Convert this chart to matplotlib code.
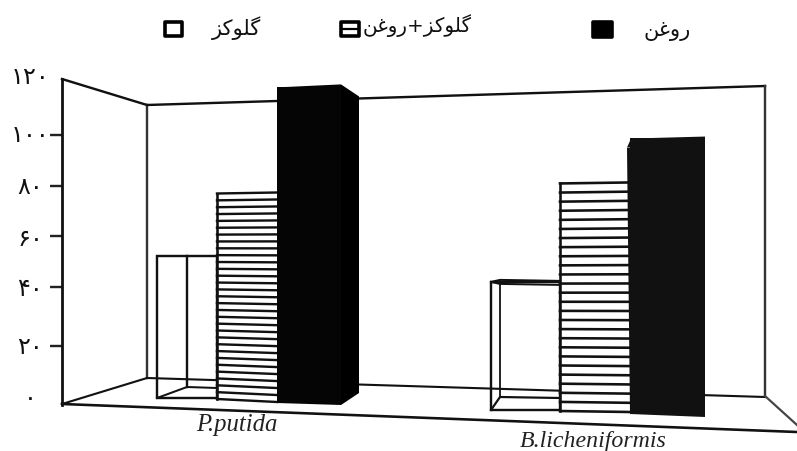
import numpy as np
import matplotlib
matplotlib.use("Agg")
import matplotlib.pyplot as plt
import matplotlib.patches as mpatches
import matplotlib.transforms as mtrans

# ---- data ----
categories = ["P.putida", "B.licheniformis"]
series_names = ["گلوکز", "گلوکز+روغن", "روغن"]
glucose = [52, 42]
glucose_oil = [77, 81]
oil = [117, 99]
tick_values = [0, 20, 40, 60, 80, 100, 120]
tick_labels = ["۰", "۲۰", "۴۰", "۶۰", "۸۰", "۱۰۰", "۱۲۰"]

W, H = 797, 451
PX = 1 / 100 * 72  # points per pixel


def pt(p):
    return p * PX


# Arabic shaping (matplotlib has no bidi or joining), logical -> visual
FORMS = {
    "گ": ("\uFB92", "\uFB93", "\uFB94", "\uFB95"),
    "ک": ("\uFB8E", "\uFB8F", "\uFB90", "\uFB91"),
    "ل": ("\uFEDD", "\uFEDE", "\uFEDF", "\uFEE0"),
    "غ": ("\uFECD", "\uFECE", "\uFECF", "\uFED0"),
    "ن": ("\uFEE5", "\uFEE6", "\uFEE7", "\uFEE8"),
    "و": ("\uFEED", "\uFEEE", None, None),
    "ز": ("\uFEAF", "\uFEB0", None, None),
    "ر": ("\uFEAD", "\uFEAE", None, None),
}


def shape(s):
    out = []
    for i, c in enumerate(s):
        if c not in FORMS:
            out.append(c)
            continue
        prev = s[i - 1] if i > 0 else ""
        nxt = s[i + 1] if i + 1 < len(s) else ""
        join_prev = prev in FORMS and FORMS[prev][2] is not None
        join_next = nxt in FORMS and FORMS[c][2] is not None
        idx = {(0, 0): 0, (1, 0): 1, (0, 1): 2, (1, 1): 3}[(int(join_prev), int(join_next))]
        out.append(FORMS[c][idx])
    return "".join(reversed(out))


# The y scale of the source is not even: its ticks sit at these pixel rows
scale_vals = np.array([-17.0, 0, 20, 40, 60, 80, 100, 120, 148.2])
scale_rows = np.array([451.0, 405, 346, 287, 236, 186, 135, 79, 0])


def forward(v):
    return -np.interp(v, scale_vals, scale_rows)


def inverse(p):
    return np.interp(p, -scale_rows, scale_vals)


def Y(row):
    return inverse(-np.asarray(row, dtype=float))


def R(v):
    return float(np.interp(v, scale_vals, scale_rows))


plt.rcParams["font.family"] = ["DejaVu Sans"]
fig = plt.figure(figsize=(W / 100, H / 100), dpi=100, facecolor="white")
ax = fig.add_axes([0, 0, 1, 1])
ax.set_yscale("function", functions=(forward, inverse))
ax.set_xlim(0, W)
ax.set_ylim(-17, 148.2)
ax.patch.set_visible(False)
pxt = mtrans.Affine2D().scale(1 / W, -1 / H).translate(0, 1) + ax.transAxes


def line(xs, rows, lw=2.2, color="#111111", z=2):
    ax.plot(xs, Y(rows), color=color, lw=pt(lw), solid_capstyle="projecting",
            solid_joinstyle="miter", zorder=z)


# ---- perspective room ----
line([62, 147], [79, 105], 2.4)
line([147, 147], [105, 378], 2.4, "#333333")
line([147, 765], [105, 86], 2.4)
line([765, 765], [86, 396], 2.4, "#333333")
line([147, 765], [378, 397], 2.1)
line([62, 147], [404, 378], 2.1)
line([765, 797], [396, 425], 2.2, "#444444")
line([62, 797], [404, 432], 2.6)

# ---- y axis ----
for s in ("top", "right", "bottom"):
    ax.spines[s].set_visible(False)
sp = ax.spines["left"]
sp.set_position(("data", 62))
sp.set_bounds(0, 120)
sp.set_linewidth(pt(2.8))
sp.set_color("#111111")
ax.set_xticks([])
ax.set_yticks(tick_values, tick_labels)
ax.tick_params(axis="y", length=pt(12), width=pt(2.4), color="#222222", pad=pt(20),
               labelsize=pt(24), labelcolor="#111111")
offsets = {0: 9, 120: 5, 20: 1, 100: 2, 80: 1}
for tick, v in zip(ax.yaxis.get_major_ticks(), tick_values):
    tick.label1.set_ha("center")
    tick.label1.set_transform(tick.label1.get_transform()
                              + mtrans.Affine2D().translate(0, offsets.get(v, 0)))
    if v in (0, 120):
        tick.tick1line.set_visible(False)

# ---- bars ----
# layout: (glucose left, glucose/hatch edge, hatch/oil edge, oil right)
edges = [(157, 217, 277, 341), (491, 560, 630, 705)]
bottoms = [(398, 399, 401, 403, 405), (410, 411, 411, 414, 417)]

for k, (x0, x1, x2, x3) in enumerate(edges):
    b = bottoms[k]
    # glucose: see-through wire frame box
    top = R(glucose[k])
    ax.bar(x0, glucose[k] - Y(b[0]), bottom=Y(b[0]), width=x1 - x0, align="edge",
           facecolor="none", edgecolor="#111111", lw=pt(2.4), zorder=4)
    if k == 0:
        bx = 187
        line([bx, bx], [top, 387], 2.4, z=4)
        line([x0, bx, x1], [b[0], 387, 388], 2.0, z=4)
    else:
        bx = 500
        line([x0, bx, x1], [top, top - 2, top - 1], 2.0, z=4)
        line([x0, bx, x1], [top, top + 2, top + 3], 2.0, z=4)
        line([bx, bx], [top + 2, 397], 1.8, z=4)
        line([x0, bx, x1], [b[0], 397, 398], 2.2, z=4)

    # glucose + oil: white front with fanning rules
    top = R(glucose_oil[k])
    ax.bar(x1, glucose_oil[k] - Y(b[2]), bottom=Y(b[2]), width=x2 - x1, align="edge",
           facecolor="white", edgecolor="none", zorder=5)
    n = 31 if k == 0 else 26
    left = np.linspace(top, b[1], n)
    right = np.linspace(top - 1, b[2] + 1, n)
    for yl, yr in zip(left, right):
        line([x1, x2], [yl, yr], 2.4 if k == 0 else 2.6, z=6)
    line([x1, x1], [top, b[1]], 2.6, z=6)

    # oil: solid block
    top = R(oil[k])
    face = "#050505" if k == 0 else "#111111"
    ax.bar(x2, oil[k] - Y(b[3]), bottom=Y(b[3]), width=x3 - x2, align="edge",
           facecolor=face, edgecolor="none", zorder=7)
    if k == 0:
        ax.fill([x2, x3, x3], Y([top, top - 3, top]), color=face, lw=0, zorder=7)
        ax.fill([x2, x3, x3], Y([b[3], b[4], b[3]]), color=face, lw=0, zorder=7)
        ax.fill([x3, 359, 359, x3], Y([top - 3, top + 9, 393, b[4]]), color="black", lw=0, zorder=7)
    else:
        ax.fill([x2 - 3, x2 + 1, x3, x3], Y([top + 10, top + 1, top - 1, top + 10]),
                color=face, lw=0, zorder=7)
        ax.fill([x2 - 3, x2, x2], Y([top + 10, top + 10, b[3]]), color=face, lw=0, zorder=7)
        ax.fill([x2, x3, x3], Y([b[3], b[4], b[3]]), color=face, lw=0, zorder=7)

# ---- category labels ----
label_pos = [(237, 425), (593, 441)]
for name, (x, y), fs in zip(categories, label_pos, (17.8, 17.2)):
    ax.text(x, y, name, transform=pxt, family="Liberation Serif", style="italic",
            fontsize=fs, ha="center", va="center", color="#222222", zorder=9)

# ---- legend ----
boxes = [(165.0, 22.0, 17.5, 14, "white"), (341.5, 22.0, 17.5, 14, "white"), (593.5, 21.5, 18.5, 15, "black")]
for x, y, w, h, fc in boxes:
    ax.add_patch(mpatches.Rectangle((x, y), w, h, transform=pxt, facecolor=fc, edgecolor="black",
                                    lw=pt(3.6), joinstyle="round", zorder=9))
ax.plot([342, 359], [29, 29], transform=pxt, color="black", lw=pt(2.2), zorder=10)

legend_pos = [(237, 28), (417, 26), (667, 31)]
for name, (x, y), fs in zip(series_names, legend_pos, (21, 20, 21)):
    ax.text(x, y, shape(name), transform=pxt, fontsize=pt(fs), ha="center", va="center",
            family=["DejaVu Sans"], color="#111111", zorder=9)

fig.savefig("out.png", dpi=100)
